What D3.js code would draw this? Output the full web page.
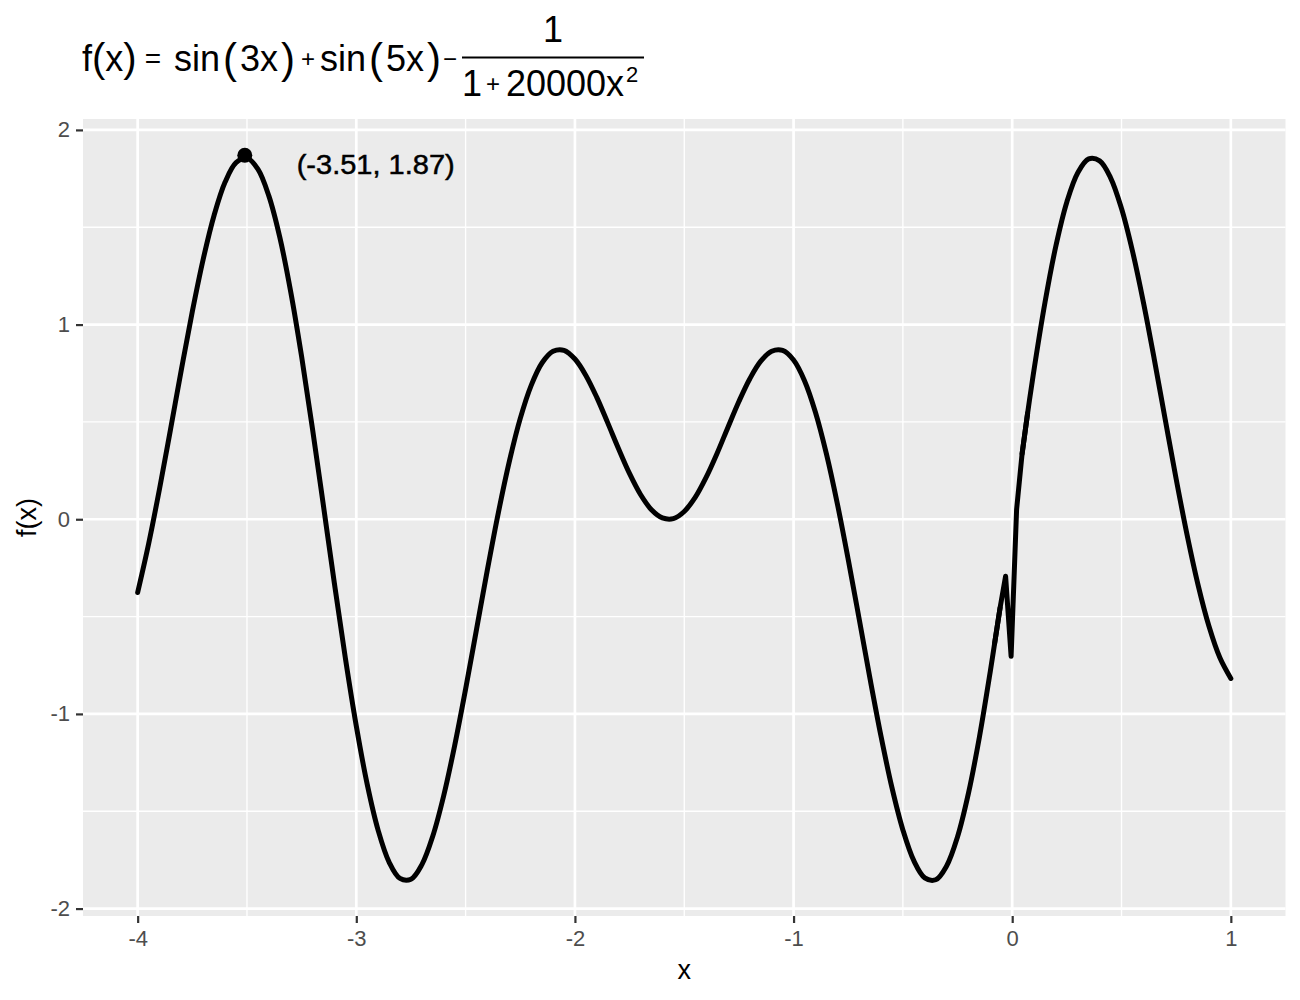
<!DOCTYPE html>
<html><head><meta charset="utf-8">
<script src="https://cdn.jsdelivr.net/npm/d3@7"></script>
<style>
body{margin:0;background:#fff}
svg{display:block}
text{font-family:"Liberation Sans", Arial, Helvetica, sans-serif}
</style>
</head><body>
<svg id="chart" width="1300" height="1000"></svg>
<script>
// x positions of the plotted curve
const xValues = [
  -4.00,-3.95,-3.90,-3.85,-3.80,-3.75,-3.70,-3.65,-3.60,-3.55,
  -3.50,-3.45,-3.40,-3.35,-3.30,-3.25,-3.20,-3.15,-3.10,-3.05,
  -3.00,-2.95,-2.90,-2.85,-2.80,-2.75,-2.70,-2.65,-2.60,-2.55,
  -2.50,-2.45,-2.40,-2.35,-2.30,-2.25,-2.20,-2.15,-2.10,-2.05,
  -2.00,-1.95,-1.90,-1.85,-1.80,-1.75,-1.70,-1.65,-1.60,-1.55,
  -1.50,-1.45,-1.40,-1.35,-1.30,-1.25,-1.20,-1.15,-1.10,-1.05,
  -1.00,-0.95,-0.90,-0.85,-0.80,-0.75,-0.70,-0.65,-0.60,-0.55,
  -0.50,-0.45,-0.40,-0.35,-0.30,-0.25,-0.20,-0.15,-0.10,
  -0.0804,-0.0553,-0.0302,-0.0050,0.0201,0.0452,0.0704,0.0955,
  0.15,0.20,0.25,0.30,0.35,0.40,0.45,0.50,0.55,0.60,
  0.65,0.70,0.75,0.80,0.85,0.90,0.95,1.00
];
// f(x) values
const fValues = [
  -0.376,-0.127,0.156,0.460,0.769,1.067,1.337,1.563,1.732,1.832,
  1.855,1.798,1.661,1.449,1.169,0.835,0.462,0.067,-0.331,-0.713,
  -1.062,-1.362,-1.598,-1.761,-1.845,-1.849,-1.774,-1.627,-1.419,-1.162,
  -0.872,-0.565,-0.257,0.035,0.297,0.518,0.688,0.804,0.863,0.868,
  0.823,0.739,0.626,0.495,0.361,0.234,0.127,0.049,0.007,0.003,
  0.040,0.112,0.215,0.338,0.473,0.605,0.722,0.812,0.863,0.867,
  0.818,0.712,0.550,0.337,0.081,-0.207,-0.512,-0.821,-1.115,-1.379,
  -1.596,-1.754,-1.842,-1.852,-1.781,-1.631,-1.407,-1.119,-0.780,
  -0.638,-0.454,-0.293,-0.704,0.050,0.336,0.544,0.737,
  1.114,1.405,1.630,1.780,1.851,1.841,1.754,1.596,1.378,1.115,
  0.821,0.512,0.206,-0.081,-0.337,-0.550,-0.712,-0.818
];
const peakX = [-3.51];
const peakY = [1.87];
const peakLabel = ["(-3.51, 1.87)"];
const xTicks = [-4, -3, -2, -1, 0, 1];
const yTicks = [-2, -1, 0, 1, 2];
const xMinor = [-3.5, -2.5, -1.5, -0.5, 0.5];
const yMinor = [-1.5, -0.5, 0.5, 1.5];

const svg = d3.select("#chart");
const P = {left: 83, right: 1285.5, top: 119, bottom: 916};

function expand(ext) { const d = ext[1] - ext[0]; return [ext[0] - 0.05 * d, ext[1] + 0.05 * d]; }
const x = d3.scaleLinear().domain(expand(d3.extent(xValues))).range([P.left, P.right]);
const y = d3.scaleLinear().domain(expand(d3.extent(fValues.concat(peakY)))).range([P.bottom, P.top]);

// panel
svg.append("rect").attr("x", P.left).attr("y", P.top)
  .attr("width", P.right - P.left).attr("height", P.bottom - P.top).attr("fill", "#EBEBEB");

const grid = svg.append("g");
grid.selectAll(".xm").data(xMinor).join("line")
  .attr("x1", d => x(d)).attr("x2", d => x(d)).attr("y1", P.top).attr("y2", P.bottom)
  .attr("stroke", "#fff").attr("stroke-width", 1.35);
grid.selectAll(".ym").data(yMinor).join("line")
  .attr("y1", d => y(d)).attr("y2", d => y(d)).attr("x1", P.left).attr("x2", P.right)
  .attr("stroke", "#fff").attr("stroke-width", 1.35);
grid.selectAll(".xM").data(xTicks).join("line")
  .attr("x1", d => x(d)).attr("x2", d => x(d)).attr("y1", P.top).attr("y2", P.bottom)
  .attr("stroke", "#fff").attr("stroke-width", 2.7);
grid.selectAll(".yM").data(yTicks).join("line")
  .attr("y1", d => y(d)).attr("y2", d => y(d)).attr("x1", P.left).attr("x2", P.right)
  .attr("stroke", "#fff").attr("stroke-width", 2.7);

// axes
const fmt = d => String(d);
const gx = svg.append("g").attr("transform", `translate(0,${P.bottom})`)
  .call(d3.axisBottom(x).tickValues(xTicks).tickFormat(fmt).tickSize(7).tickPadding(7.4));
const gy = svg.append("g").attr("transform", `translate(${P.left},0)`)
  .call(d3.axisLeft(y).tickValues(yTicks).tickFormat(fmt).tickSize(7).tickPadding(6));
[gx, gy].forEach(g => {
  g.select(".domain").remove();
  g.selectAll(".tick line").attr("stroke", "#333333").attr("stroke-width", 2.2);
  g.selectAll(".tick text").attr("fill", "#4D4D4D").style("font-size", "22px")
    .style("font-family", '"Liberation Sans", Arial, sans-serif');
});

// axis titles
svg.append("text").attr("x", (P.left + P.right) / 2).attr("y", 979)
  .attr("text-anchor", "middle").style("font-size", "27px").text("x");
svg.append("text").attr("transform", `translate(36,${(P.top + P.bottom) / 2}) rotate(-90)`)
  .attr("text-anchor", "middle").style("font-size", "27px").text("f(x)");

// curve: smooth pieces, with straight segments through the sharp dip near 0
const idx = d3.range(xValues.length);
const iA = xValues.indexOf(-0.0553), iB = xValues.indexOf(-0.0804);
const iC = xValues.indexOf(0.0452), iD = xValues.indexOf(0.0704);
const smooth = d3.line().x(i => x(xValues[i])).y(i => y(fValues[i])).curve(d3.curveCatmullRom.alpha(0.5));
const straight = d3.line().x(i => x(xValues[i])).y(i => y(fValues[i]));
const pieces = [
  {ids: idx.filter(i => i <= iA), gen: smooth},
  {ids: idx.filter(i => i >= iB && i <= iD), gen: straight},
  {ids: idx.filter(i => i >= iC), gen: smooth}
];
svg.selectAll(".curve").data(pieces).join("path")
  .attr("d", p => p.gen(p.ids))
  .attr("fill", "none").attr("stroke", "#000").attr("stroke-width", 5)
  .attr("stroke-linejoin", "round").attr("stroke-linecap", "round");

// peak point + label
svg.selectAll(".peak").data(peakX).join("circle")
  .attr("cx", d => x(d)).attr("cy", (d, i) => y(peakY[i])).attr("r", 7.5).attr("fill", "#000");
svg.selectAll(".plab").data(peakLabel).join("text")
  .attr("x", 296.7).attr("y", 174).attr("textLength", 158).attr("lengthAdjust", "spacingAndGlyphs")
  .style("font-size", "28px").attr("fill", "#000").attr("stroke", "#000").attr("stroke-width", 0.5)
  .text(d => d);

// title (math expression)
const T = svg.append("g");
const fs = 36, base = 71;
function fn(x0, name, arg) {
  const t = T.append("text").attr("x", x0).attr("y", base).style("font-size", fs + "px");
  t.append("tspan").text(name);
  t.append("tspan").attr("dx", 3).style("font-size", "42px").attr("dy", 2).text("(");
  t.append("tspan").attr("dx", 3).attr("dy", -2).text(arg);
  t.append("tspan").attr("dx", 3).style("font-size", "42px").attr("dy", 2).text(")");
}
function op(cx, cy, size, s) {
  T.append("text").attr("x", cx).attr("y", cy).attr("text-anchor", "middle").style("font-size", size + "px").text(s);
}
const fx = T.append("text").attr("x", 82).attr("y", base).style("font-size", fs + "px");
fx.append("tspan").text("f");
fx.append("tspan").style("font-size", "40px").attr("dy", 1).text("(");
fx.append("tspan").attr("dy", -1).text("x");
fx.append("tspan").style("font-size", "40px").attr("dy", 1).text(")");
op(153, 68, 28, "=");
fn(174, "sin", "3x");
op(308, 66.5, 24, "+");
fn(320, "sin", "5x");
op(450, 66.5, 24, "\u2212");
T.append("line").attr("x1", 462).attr("x2", 644).attr("y1", 57.5).attr("y2", 57.5)
  .attr("stroke", "#000").attr("stroke-width", 2);
T.append("text").attr("x", 553).attr("y", 42).attr("text-anchor", "middle").style("font-size", fs + "px").text("1");
T.append("text").attr("x", 462).attr("y", 96).style("font-size", fs + "px").text("1");
op(493, 92, 24, "+");
T.append("text").attr("x", 506).attr("y", 96).style("font-size", fs + "px").text("20000x");
T.append("text").attr("x", 626).attr("y", 82).style("font-size", "22px").text("2");
</script>
</body></html>
